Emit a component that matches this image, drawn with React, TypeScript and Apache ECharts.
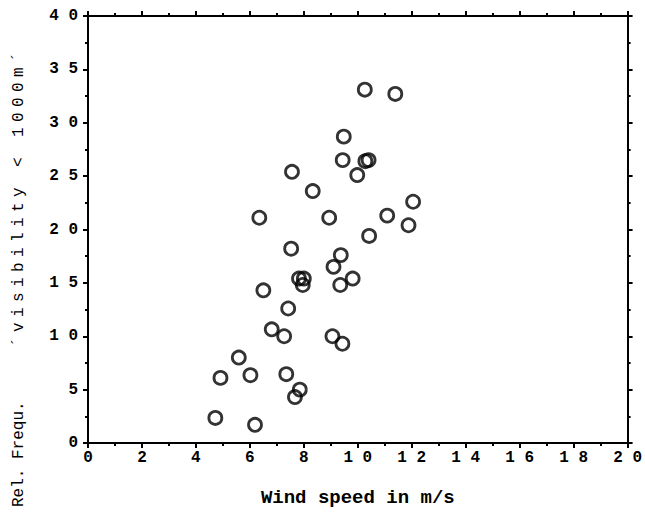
import React, { useEffect, useRef } from "react";
import * as echarts from "echarts";

// Wind speed (m/s) and relative frequency (%) of visibility below 1000 m
const windSpeed = [
  10.26, 11.39, 9.48, 9.44, 10.28, 10.4, 9.98, 7.56, 8.33, 6.35, 8.94, 12.05,
  11.09, 11.88, 10.42, 7.53, 9.37, 9.1, 9.81, 9.35, 7.82, 8.0, 7.96, 6.5, 7.42,
  6.81, 7.27, 9.06, 9.43, 5.59, 4.91, 6.02, 7.35, 7.85, 7.67, 4.72, 6.19,
];
const relFrequency = [
  33.1, 32.7, 28.7, 26.5, 26.4, 26.5, 25.1, 25.4, 23.6, 21.1, 21.1, 22.6, 21.3,
  20.4, 19.4, 18.2, 17.6, 16.5, 15.4, 14.8, 15.4, 15.4, 14.8, 14.3, 12.6, 10.65,
  10.0, 10.0, 9.3, 8.0, 6.1, 6.35, 6.45, 5.0, 4.3, 2.35, 1.7,
];

const xRange = { min: 0, max: 20, interval: 2 };
const yRange = { min: 0, max: 40, interval: 5 };

const xTitle = "Wind speed in m/s";
const yTitleA = "Rel. Frequ.";
const yTitleB = "\u00B4visibility < 1000m\u00B4";

const MONO = "'Liberation Mono', 'DejaVu Sans Mono', monospace";

// tick numbers are printed with a blank between the digits, e.g. "1 0"
const spacedDigits = (v: number) => String(v).split("").join(" ");

export default function App() {
  const ref = useRef<HTMLDivElement>(null);

  useEffect(() => {
    if (!ref.current) return;
    const chart = echarts.init(ref.current, undefined, { renderer: "svg" });

    const lineStyle = { color: "#000", width: 2 };
    const tickCommon = {
      show: true,
      inside: false,
      length: 5,
      lineStyle: { color: "#000", width: 2 },
    };
    const minorCommon = {
      show: true,
      splitNumber: 2,
      length: 3,
      lineStyle: { color: "#000", width: 2 },
    };
    const labelStyle = {
      color: "#000",
      fontFamily: MONO,
      fontWeight: "bold" as const,
      fontSize: 16,
      formatter: spacedDigits,
    };

    const points = windSpeed.map((x, i) => [x, relFrequency[i]]);

    chart.setOption({
      animation: false,
      backgroundColor: "#fff",
      grid: { left: 88, right: 13, top: 16, bottom: 76, containLabel: false },
      xAxis: [
        {
          type: "value",
          position: "bottom",
          ...xRange,
          axisLine: { show: true, onZero: false, lineStyle },
          axisTick: tickCommon,
          minorTick: minorCommon,
          splitLine: { show: false },
          axisLabel: { ...labelStyle, margin: 7 },
          name: xTitle,
          nameLocation: "middle",
          nameGap: 45,
          nameTextStyle: {
            color: "#000",
            fontFamily: MONO,
            fontWeight: "bold",
            fontSize: 19,
          },
        },
        {
          type: "value",
          position: "top",
          ...xRange,
          axisLine: { show: true, onZero: false, lineStyle },
          axisTick: tickCommon,
          minorTick: minorCommon,
          splitLine: { show: false },
          axisLabel: { show: false },
        },
      ],
      yAxis: [
        {
          type: "value",
          position: "left",
          ...yRange,
          axisLine: { show: true, onZero: false, lineStyle },
          axisTick: tickCommon,
          minorTick: minorCommon,
          splitLine: { show: false },
          axisLabel: { ...labelStyle, margin: 10 },
        },
        {
          type: "value",
          position: "right",
          ...yRange,
          axisLine: { show: true, onZero: false, lineStyle },
          axisTick: tickCommon,
          minorTick: minorCommon,
          splitLine: { show: false },
          axisLabel: { show: false },
        },
      ],
      graphic: [
        {
          type: "text",
          x: 19,
          y: 507,
          rotation: Math.PI / 2,
          style: {
            text: yTitleA,
            fill: "#000",
            font: `16px ${MONO}`,
            textAlign: "left",
            textVerticalAlign: "middle",
          },
        },
        {
          type: "text",
          x: 19,
          y: 347,
          rotation: Math.PI / 2,
          style: {
            text: yTitleB,
            fill: "#000",
            font: `16px ${MONO}`,
            textAlign: "left",
            textVerticalAlign: "middle",
          },
        },
      ],
      series: [
        {
          type: "scatter",
          xAxisIndex: 0,
          yAxisIndex: 0,
          data: points,
          symbol: "circle",
          symbolSize: 13,
          itemStyle: {
            color: "rgba(255,255,255,0)",
            borderColor: "#000",
            borderWidth: 2.8,
          },
          emphasis: { disabled: true },
        },
      ],
    });

    // widen the spacing of the long part of the y-axis title
    const spaceOut = () => {
      ref.current?.querySelectorAll("text").forEach((t) => {
        if (t.textContent && t.textContent.indexOf("visibility") >= 0) {
          t.setAttribute("letter-spacing", "5.4");
        }
      });
    };
    (chart.getZr() as any).flush?.();
    spaceOut();
    chart.on("finished", spaceOut);

    return () => chart.dispose();
  }, []);

  return <div ref={ref} style={{ width: 645, height: 519, position: "absolute", left: 0, top: 0 }} />;
}
